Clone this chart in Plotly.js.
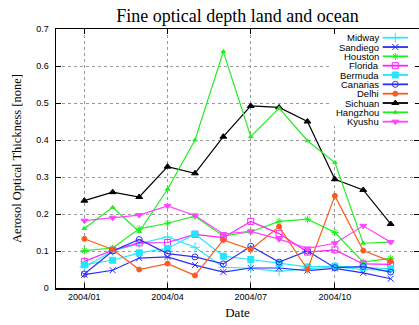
<!DOCTYPE html>
<html>
<head>
<meta charset="utf-8">
<script src="https://cdn.plot.ly/plotly-3.0.1.min.js"></script>
<style>
  html, body { margin: 0; padding: 0; background: #fff; }
  #chart { width: 419px; height: 325px; }
</style>
</head>
<body>
<div id="chart"></div>
<script>
// Monthly fine-mode aerosol optical depth, 2004
const months = ['2004-01-01','2004-02-01','2004-03-01','2004-04-01','2004-05-01','2004-06-01',
                '2004-07-01','2004-08-01','2004-09-01','2004-10-01','2004-11-01','2004-12-01'];
const tickDates = ['2004-01-01','2004-04-01','2004-07-01','2004-10-01'];
const yTicks = [0, 0.1, 0.2, 0.3, 0.4, 0.5, 0.6, 0.7];

const siteNames = ['Midway','Sandiego','Houston','Florida','Bermuda','Canarias','Delhi','Sichuan','Hangzhou','Kyushu'];

const midway   = [0.057, 0.100, 0.120, 0.138, 0.110, 0.056, 0.053, 0.045, 0.052, 0.057, 0.050, 0.048];
const sandiego = [0.036, 0.048, 0.081, 0.084, 0.062, 0.043, 0.054, 0.054, 0.047, 0.053, 0.041, 0.025];
const houston  = [0.101, 0.108, 0.160, 0.175, 0.194, 0.140, 0.152, 0.180, 0.186, 0.150, 0.070, 0.080];
const florida  = [0.072, 0.102, 0.122, 0.123, 0.145, 0.136, 0.180, 0.147, 0.097, 0.103, 0.065, 0.064];
const bermuda  = [0.063, 0.075, 0.095, 0.107, 0.146, 0.086, 0.077, 0.066, 0.057, 0.059, 0.056, 0.052];
const canarias = [0.038, 0.100, 0.131, 0.093, 0.084, 0.065, 0.113, 0.070, 0.100, 0.055, 0.058, 0.043];
const delhi    = [0.133, 0.104, 0.050, 0.066, 0.034, 0.130, 0.104, 0.166, 0.050, 0.249, 0.101, 0.072];
const sichuan  = [0.236, 0.259, 0.246, 0.328, 0.310, 0.409, 0.492, 0.488, 0.450, 0.294, 0.265, 0.173];
const hangzhou = [0.161, 0.218, 0.152, 0.267, 0.400, 0.639, 0.409, 0.486, 0.398, 0.339, 0.121, 0.124];
const kyushu   = [0.182, 0.190, 0.197, 0.222, 0.196, 0.146, 0.153, 0.132, 0.107, 0.121, 0.168, 0.124];

const seriesValues = [midway, sandiego, houston, florida, bermuda, canarias, delhi, sichuan, hangzhou, kyushu];

// Line colour and point symbol per site
const styles = [
  { color: '#30e6ff', symbol: 'cross-thin-open',   size: 7 },
  { color: '#2a2aff', symbol: 'x-thin-open',       size: 6 },
  { color: '#22ee22', symbol: 'asterisk-open',     size: 6 },
  { color: '#ff22ff', symbol: 'square-open',       size: 6 },
  { color: '#22e6ff', symbol: 'square',            size: 6 },
  { color: '#3030ee', symbol: 'circle-open-dot',   size: 6 },
  { color: '#ff5a1e', symbol: 'circle',            size: 5 },
  { color: '#000000', symbol: 'triangle-up',       size: 6 },
  { color: '#22ee22', symbol: 'triangle-up',       size: 4 },
  { color: '#ff44ff', symbol: 'triangle-down',     size: 6 }
];

const traces = [];
seriesValues.forEach((vals, i) => {
  const st = styles[i];
  traces.push({
    type: 'scatter', mode: 'lines+markers',
    name: siteNames[i], x: months, y: vals,
    line: { color: st.color, width: 1.2 },
    marker: { symbol: st.symbol, size: st.size, color: st.color, line: { color: st.color, width: 1 } },
    showlegend: false, hoverinfo: 'skip'
  });
});

// Key panel: pixel-like coordinates on a small overlay subplot (x2/y2)
const keyLeft = 332, keyRight = 415, keyTop = 35, keyBottom = 126;
const rowY = i => 37.7 + 9.33 * i;

// opaque backing for the key so grid lines do not run through it
traces.push({
  type: 'scatter', mode: 'none', xaxis: 'x2', yaxis: 'y2',
  x: [keyLeft, keyRight, keyRight, keyLeft, keyLeft],
  y: [keyTop, keyTop, keyBottom, keyBottom, keyTop],
  fill: 'toself', fillcolor: '#ffffff', line: { width: 0 },
  showlegend: false, hoverinfo: 'skip'
});

// one short sample line per site with its symbol in the middle
siteNames.forEach((name, i) => {
  const st = styles[i];
  const y = rowY(i);
  traces.push({
    type: 'scatter', mode: 'lines+markers', xaxis: 'x2', yaxis: 'y2',
    x: [382.7, 395.3, 408], y: [y, y, y],
    line: { color: st.color, width: 1.8 },
    marker: { symbol: st.symbol, size: st.size, color: st.color, opacity: [0, 1, 0],
              line: { color: st.color, width: 1 } },
    showlegend: false, hoverinfo: 'skip', cliponaxis: false
  });
});

const keyLabels = siteNames.map((name, i) => ({
  text: name, xref: 'x2', yref: 'y2', x: 379.5, y: rowY(i),
  xanchor: 'right', yanchor: 'middle', showarrow: false, borderpad: 0,
  font: { family: 'Liberation Sans, Arial, sans-serif', size: 9.5, color: '#000' }
}));

const tickFont = { family: 'Liberation Sans, Arial, sans-serif', size: 9, color: '#000' };
const serif = 'Liberation Serif, Times New Roman, serif';

// plot area spans x 56..419 px and y 29..288 px
const plotL = 56, plotW = 363, plotT = 29, plotH = 259;

const layout = {
  width: 419, height: 325,
  margin: { l: plotL, r: 0, t: plotT, b: 37, pad: 0 },
  paper_bgcolor: '#fff', plot_bgcolor: '#fff',
  showlegend: false,
  title: {
    text: 'Fine optical depth land and ocean',
    font: { family: serif, size: 18, color: '#000' },
    x: 0.5, xref: 'paper', y: 0.952, yref: 'container', yanchor: 'middle'
  },
  xaxis: {
    type: 'date', range: ['2003-12-01', '2005-01-01'],
    tickvals: tickDates, tickformat: '%Y/%m',
    ticks: 'inside', ticklen: 5, tickcolor: '#000', tickwidth: 1,
    showline: true, linecolor: '#000', linewidth: 1.5, mirror: 'ticks',
    showgrid: true, gridcolor: '#999', griddash: 'dot', gridwidth: 1,
    zeroline: false, tickfont: tickFont,
    title: { text: 'Date', font: { family: serif, size: 13, color: '#000' }, standoff: 6 }
  },
  yaxis: {
    range: [0, 0.7], tickvals: yTicks,
    ticks: 'inside', ticklen: 5, tickcolor: '#000', tickwidth: 1,
    showline: true, linecolor: '#000', linewidth: 1.5, mirror: 'ticks',
    showgrid: true, gridcolor: '#999', griddash: 'dot', gridwidth: 1,
    zeroline: false, tickfont: tickFont, ticklabelstandoff: 4,
    title: { text: 'Aerosol Optical Thickness [none]', font: { family: serif, size: 12.5, color: '#000' }, standoff: 12 }
  },
  xaxis2: {
    domain: [(keyLeft - plotL) / plotW, (keyRight - plotL) / plotW],
    range: [keyLeft, keyRight], anchor: 'y2', visible: false, fixedrange: true
  },
  yaxis2: {
    domain: [1 - (keyBottom - plotT) / plotH, 1 - (keyTop - plotT) / plotH],
    range: [keyBottom, keyTop], anchor: 'x2', visible: false, fixedrange: true
  },
  annotations: keyLabels
};

Plotly.newPlot('chart', traces, layout, { displayModeBar: false, staticPlot: true });
</script>
</body>
</html>
